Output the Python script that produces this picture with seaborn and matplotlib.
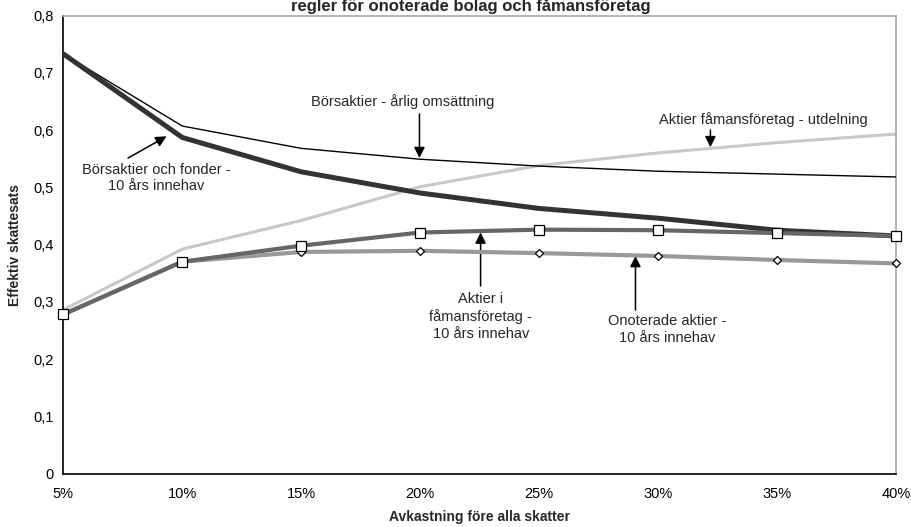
import matplotlib
matplotlib.use("Agg")
import matplotlib.pyplot as plt
import seaborn as sns
from matplotlib.ticker import FixedLocator, FuncFormatter

# Return before taxes (%)
avkastning = [5, 10, 15, 20, 25, 30, 35, 40]

# Effective tax rates per holding type
borsaktier_fonder = [0.733, 0.587, 0.527, 0.490, 0.463, 0.446, 0.425, 0.415]
borsaktier_arlig = [0.733, 0.607, 0.568, 0.549, 0.537, 0.528, 0.523, 0.518]
famans_utdelning = [0.286, 0.392, 0.442, 0.501, 0.538, 0.560, 0.578, 0.593]
famans_innehav = [0.278, 0.370, 0.398, 0.421, 0.426, 0.425, 0.420, 0.415]
onoterade_innehav = [0.278, 0.370, 0.387, 0.389, 0.385, 0.380, 0.373, 0.367]

y_ticks = [0, 0.1, 0.2, 0.3, 0.4, 0.5, 0.6, 0.7, 0.8]

sns.set_style("white")
plt.rcParams["font.family"] = ["Liberation Sans", "DejaVu Sans"]

fig = plt.figure(figsize=(9.11, 5.27), dpi=100)
ax = fig.add_axes([0.0695, 0.1015, 0.914, 0.869])

sns.lineplot(x=avkastning, y=famans_utdelning, ax=ax, color="#c8c8c8", lw=2.2, zorder=2)
sns.lineplot(x=avkastning, y=borsaktier_arlig, ax=ax, color="#000000", lw=1.0, zorder=3)
sns.lineplot(x=avkastning, y=onoterade_innehav, ax=ax, color="#999999", lw=3.0,
             marker="D", markersize=4.5, markerfacecolor="white", markeredgecolor="black",
             markeredgewidth=0.9, zorder=4, clip_on=False)
sns.lineplot(x=avkastning, y=borsaktier_fonder, ax=ax, color="#333333", lw=3.6, zorder=5)
sns.lineplot(x=avkastning, y=famans_innehav, ax=ax, color="#666666", lw=3.0,
             marker="s", markersize=7, markerfacecolor="white", markeredgecolor="black",
             markeredgewidth=0.9, zorder=6, clip_on=False)

ax.set_xlim(5, 40)
ax.set_ylim(0, 0.8)
ax.xaxis.set_major_locator(FixedLocator(avkastning))
ax.yaxis.set_major_locator(FixedLocator(y_ticks))
ax.xaxis.set_major_formatter(FuncFormatter(lambda v, p: f"{v:.0f}%"))
ax.yaxis.set_major_formatter(FuncFormatter(
    lambda v, p: "0" if v == 0 else f"{v:.1f}".replace(".", ",")))
ax.tick_params(axis="both", direction="inout", length=8, width=1, color="black",
               labelsize=10.5, labelcolor="black")
ax.tick_params(axis="x", pad=6)
ax.tick_params(axis="y", pad=3)

for side in ("left", "bottom"):
    ax.spines[side].set_color("black")
    ax.spines[side].set_linewidth(1.2)
for side in ("top", "right"):
    ax.spines[side].set_color("#a8a8a8")
    ax.spines[side].set_linewidth(1.2)

ax.set_xlabel("Avkastning före alla skatter", fontsize=10, fontweight="bold")
ax.set_ylabel("Effektiv skattesats", fontsize=10, fontweight="bold")
ax.xaxis.set_label_coords(0.5, -0.095)
ax.yaxis.set_label_coords(-0.058, 0.5)
ax.xaxis.label.set_va("center")
ax.yaxis.label.set_va("center")

fig.text(0.517, 1 - 6 / 527, "regler för onoterade bolag och fåmansföretag",
         ha="center", va="center", fontsize=12, fontweight="bold")

arrow = dict(arrowstyle="-|>", color="black", lw=1.1, mutation_scale=16,
             shrinkA=0, shrinkB=0)
fs = 10.5

# Labels
ax.text(8.92, 0.516, "Börsaktier och fonder -\n10 års innehav", ha="center", va="center",
        fontsize=fs, linespacing=1.25)
ax.text(19.27, 0.649, "Börsaktier - årlig omsättning", ha="center", va="center", fontsize=fs)
ax.text(34.42, 0.619, "Aktier fåmansföretag - utdelning", ha="center", va="center", fontsize=fs)
ax.text(22.55, 0.274, "Aktier i\nfåmansföretag -\n10 års innehav", ha="center", va="center",
        fontsize=fs, linespacing=1.25)
ax.text(30.37, 0.2515, "Onoterade aktier -\n10 års innehav", ha="center", va="center",
        fontsize=fs, linespacing=1.25)

# Pointer arrows
ax.annotate("", xy=(9.34, 0.589), xytext=(7.72, 0.551), arrowprops=arrow)
ax.annotate("", xy=(19.97, 0.551), xytext=(19.97, 0.628), arrowprops=arrow)
ax.annotate("", xy=(32.2, 0.570), xytext=(32.2, 0.600), arrowprops=arrow)
ax.annotate("", xy=(22.54, 0.421), xytext=(22.54, 0.3275), arrowprops=arrow)
ax.annotate("", xy=(29.05, 0.380), xytext=(29.05, 0.2856), arrowprops=arrow)

fig.savefig("out.png", dpi=100)
